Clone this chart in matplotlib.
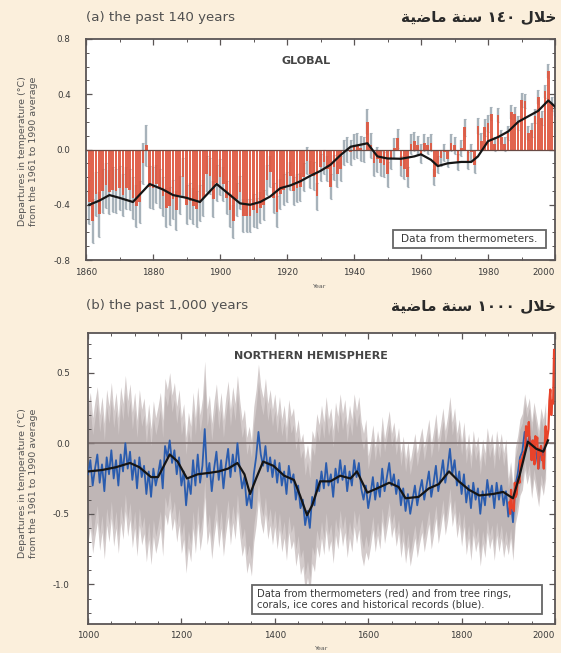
import numpy as np
import matplotlib
matplotlib.use('Agg')
import matplotlib.pyplot as plt
from matplotlib.ticker import MultipleLocator, FixedLocator
from matplotlib.patches import Rectangle

# ---------------- data: panel (a) global, 1861-2000 ----------------
years_a = np.arange(1861, 2001)
anom_a = [
    -0.38, -0.52, -0.32, -0.47, -0.30, -0.26, -0.31, -0.29, -0.30, -0.28,
    -0.33, -0.28, -0.29, -0.35, -0.41, -0.38, -0.10, 0.03, -0.27, -0.28,
    -0.25, -0.28, -0.34, -0.42, -0.41, -0.36, -0.44, -0.33, -0.20, -0.40,
    -0.37, -0.41, -0.43, -0.39, -0.35, -0.18, -0.19, -0.36, -0.24, -0.20,
    -0.25, -0.35, -0.44, -0.52, -0.36, -0.31, -0.48, -0.48, -0.48, -0.44,
    -0.46, -0.42, -0.40, -0.22, -0.16, -0.35, -0.45, -0.32, -0.29, -0.27,
    -0.19, -0.30, -0.28, -0.27, -0.20, -0.08, -0.18, -0.19, -0.34, -0.13,
    -0.09, -0.14, -0.27, -0.13, -0.18, -0.14, -0.02, 0.00, -0.02, 0.02,
    0.03, 0.01, 0.00, 0.20, 0.03, -0.10, -0.07, -0.10, -0.11, -0.18,
    -0.07, 0.01, 0.08, -0.12, -0.14, -0.20, 0.04, 0.06, 0.03, -0.03,
    0.05, 0.03, 0.05, -0.20, -0.11, -0.06, -0.02, -0.07, 0.05, 0.03,
    -0.09, 0.01, 0.16, -0.08, -0.02, -0.11, 0.17, 0.06, 0.16, 0.19,
    0.26, 0.04, 0.25, 0.09, 0.04, 0.12, 0.27, 0.26, 0.19, 0.36,
    0.35, 0.12, 0.14, 0.24, 0.38, 0.23, 0.42, 0.57, 0.33, 0.29,
]
err_decades_a = [0.16, 0.15, 0.14, 0.13, 0.12, 0.11, 0.10, 0.09, 0.09, 0.07,
                 0.06, 0.06, 0.05, 0.05]
smooth_a_years = [1861, 1864, 1867, 1870, 1874, 1879, 1883, 1886, 1890, 1894,
                  1899, 1903, 1906, 1909, 1912, 1915, 1918, 1921, 1924, 1927,
                  1930, 1933, 1936, 1939, 1942, 1944, 1947, 1950, 1954, 1958,
                  1960, 1963, 1965, 1968, 1972, 1975, 1977, 1980, 1983, 1986,
                  1989, 1992, 1995, 1998, 2000]
smooth_a_vals = [-0.40, -0.37, -0.33, -0.35, -0.38, -0.25, -0.29, -0.33, -0.35, -0.38,
                 -0.25, -0.33, -0.39, -0.40, -0.38, -0.34, -0.28, -0.26, -0.23, -0.19,
                 -0.155, -0.11, -0.04, 0.02, 0.035, 0.045, -0.05, -0.065, -0.067, -0.05,
                 -0.035, -0.075, -0.12, -0.10, -0.09, -0.09, -0.05, 0.06, 0.09, 0.13,
                 0.20, 0.24, 0.28, 0.355, 0.31]

# ---------------- data: panel (b) northern hemisphere, 1000-2000 ----------------
proxy_years = np.arange(1000, 1981, 5)
proxy_vals = [
    -0.22, -0.12, -0.30, -0.18, -0.08, -0.28, -0.15, -0.34, -0.10, -0.22,
    -0.05, -0.25, -0.12, -0.30, -0.08, -0.20, 0.00, -0.18, -0.06, -0.26,
    -0.12, -0.32, -0.10, -0.24, -0.16, -0.36, -0.20, -0.38, -0.18, -0.30,
    -0.22, -0.12, -0.32, -0.02, -0.10, 0.02, -0.14, -0.05, -0.22, -0.10,
    -0.30, -0.20, -0.44, -0.26, -0.36, -0.12, -0.30, -0.08, -0.28, -0.16,
    0.10, -0.24, -0.14, -0.34, -0.18, -0.06, -0.26, -0.12, -0.32, -0.16,
    -0.04, -0.24, -0.08, -0.20, 0.00, -0.18, -0.32, -0.24, -0.44, -0.36,
    -0.46, -0.22, -0.10, 0.08, -0.08, -0.16, -0.02, -0.20, -0.10, -0.24,
    -0.12, -0.28, -0.14, -0.30, -0.20, -0.36, -0.16, -0.28, -0.22, -0.40,
    -0.30, -0.46, -0.40, -0.58, -0.48, -0.60, -0.38, -0.44, -0.26, -0.34,
    -0.20, -0.32, -0.14, -0.30, -0.22, -0.38, -0.18, -0.28, -0.12, -0.26,
    -0.16, -0.34, -0.20, -0.30, -0.12, -0.24, -0.14, -0.32, -0.40, -0.30,
    -0.46, -0.36, -0.24, -0.40, -0.28, -0.38, -0.18, -0.34, -0.24, -0.14,
    -0.30, -0.22, -0.36, -0.26, -0.44, -0.32, -0.48, -0.36, -0.50, -0.40,
    -0.30, -0.44, -0.34, -0.26, -0.40, -0.30, -0.20, -0.38, -0.28, -0.16,
    -0.34, -0.24, -0.12, -0.28, -0.18, -0.04, -0.22, -0.12, -0.30, -0.20,
    -0.36, -0.22, -0.42, -0.30, -0.46, -0.28, -0.40, -0.32, -0.50, -0.34,
    -0.44, -0.26, -0.38, -0.30, -0.46, -0.28, -0.40, -0.30, -0.44, -0.34,
    -0.52, -0.40, -0.56, -0.30, -0.22, -0.10, -0.06, 0.08, -0.02, 0.05,
    -0.12, 0.02, -0.08, -0.18, -0.02, -0.10, 0.02,
]
band_era_edges = [1000, 1400, 1600, 1900, 1981]
band_halfwidth = [0.48, 0.47, 0.37, 0.27]

instr_years = np.arange(1902, 1999, 2)
instr_vals = [
    -0.42, -0.50, -0.33, -0.46, -0.45, -0.48, -0.28, -0.38, -0.36, -0.27,
    -0.25, -0.28, -0.12, -0.16, -0.10, -0.08, -0.06, -0.05, 0.12, 0.05,
    0.08, 0.15, -0.02, -0.01, -0.12, 0.02, -0.05, -0.15, 0.05, 0.00,
    0.04, -0.18, -0.04, -0.08, -0.02, -0.12, -0.10, -0.18, -0.02, 0.12,
    0.00, 0.05, 0.10, 0.30, 0.38, 0.20, 0.30, 0.28, 0.66,
]
smooth_b_years = [1000, 1030, 1060, 1090, 1110, 1135, 1150, 1175, 1192, 1212,
                  1235, 1260, 1280, 1300, 1320, 1335, 1347, 1360, 1375, 1397,
                  1420, 1441, 1454, 1469, 1480, 1497, 1519, 1540, 1562, 1576,
                  1598, 1619, 1645, 1665, 1680, 1708, 1730, 1751, 1773, 1794,
                  1816, 1838, 1867, 1889, 1910, 1924, 1942, 1960, 1975, 1985]
smooth_b_vals = [-0.20, -0.19, -0.17, -0.14, -0.17, -0.24, -0.24, -0.08, -0.13, -0.25,
                 -0.22, -0.21, -0.20, -0.18, -0.14, -0.22, -0.36, -0.25, -0.13, -0.16,
                 -0.23, -0.26, -0.37, -0.51, -0.44, -0.27, -0.27, -0.23, -0.25, -0.20,
                 -0.35, -0.32, -0.28, -0.31, -0.39, -0.38, -0.32, -0.29, -0.20, -0.27,
                 -0.33, -0.37, -0.36, -0.345, -0.39, -0.23, 0.01, -0.04, -0.06, 0.02]

# texts
title_a = "(a) the past 140 years"
title_b = "(b) the past 1,000 years"
# Arabic titles, in visual (shaped, right-to-left reordered) form:
# "خلال ١٤٠ سنة ماضية" and "خلال ١٠٠٠ سنة ماضية"
title_a_ar = "\uFE94\uFEF4\uFEBF\uFE8E\uFEE3 \uFE94\uFEE8\uFEB3 \u0661\u0664\u0660 \uFEDD\uFEFC\uFEA7"
title_b_ar = "\uFE94\uFEF4\uFEBF\uFE8E\uFEE3 \uFE94\uFEE8\uFEB3 \u0661\u0660\u0660\u0660 \uFEDD\uFEFC\uFEA7"
ylabel_txt = "Departures in temperature (\u00b0C)\nfrom the 1961 to 1990 average"
label_a = "GLOBAL"
label_b = "NORTHERN HEMISPHERE"
note_a = "Data from thermometers."
note_b = ("Data from thermometers (red) and from tree rings,\n"
          "corals, ice cores and historical records (blue).")
xticks_a = [1860, 1880, 1900, 1920, 1940, 1960, 1980, 2000]
xticks_b = [1000, 1200, 1400, 1600, 1800, 2000]

assert len(anom_a) == len(years_a)
assert len(proxy_vals) == len(proxy_years)
assert len(instr_vals) == len(instr_years)

# ---------------- figure ----------------
W, H = 561, 653
BG = '#fbefdc'
plt.rcParams['font.family'] = ['DejaVu Sans']
fig = plt.figure(figsize=(W / 100, H / 100), dpi=100, facecolor=BG)


def px(x, y):
    return x / W, 1 - y / H


def add_axes_px(l, t, r, b):
    return fig.add_axes([l / W, 1 - b / H, (r - l) / W, (b - t) / H])


SPINE = '#5a5555'
TXT = '#3a3a3a'


def style(ax):
    for s in ax.spines.values():
        s.set_color(SPINE)
        s.set_linewidth(1.3)
    ax.tick_params(which='both', direction='in', top=True, right=True,
                   color=SPINE, labelcolor=TXT, labelsize=6.3)
    ax.tick_params(which='major', length=4, width=0.9)
    ax.tick_params(which='minor', length=2.2, width=0.7)
    ax.set_facecolor('white')


# ---- panel (a)
ax1 = add_axes_px(86, 39, 555, 260)
style(ax1)
err_a = np.repeat(err_decades_a, 10)
ax1.errorbar(years_a, anom_a, yerr=err_a, fmt='none', ecolor='#a7b2ba',
             elinewidth=1.7, capsize=1.0, capthick=0.8, zorder=1)
ax1.bar(years_a, anom_a, width=0.8, color='#df5740', edgecolor='none',
        alpha=0.92, zorder=2)
ax1.axhline(0, color='#6a4a44', lw=0.9, zorder=4)
ax1.plot(smooth_a_years, smooth_a_vals, color='#151515', lw=1.6, zorder=5,
         solid_joinstyle='round')
ax1.set_xlim(1860, 2000)
ax1.set_ylim(-0.8, 0.8)
ax1.set_xticks(xticks_a)
ax1.set_xticklabels([str(v) for v in xticks_a])
ax1.xaxis.set_minor_locator(MultipleLocator(10))
ax1.yaxis.set_major_locator(FixedLocator([-0.8, -0.4, 0.0, 0.4, 0.8]))
ax1.yaxis.set_minor_locator(MultipleLocator(0.1))
ax1.set_yticklabels(["-0.8", "-0.4", "0.0", "0.4", "0.8"])
ax1.tick_params(axis='y', pad=11)
ax1.tick_params(axis='x', pad=6)

ax1.text(0.47, 0.90, label_a, transform=ax1.transAxes, ha='center', va='center',
         fontsize=8, fontweight='bold', color='#444444')
# note box a
ax1.add_patch(Rectangle(((393 - 86) / 469, (260 - 248) / 221), (546 - 393) / 469,
                        18 / 221, transform=ax1.transAxes, facecolor='white',
                        edgecolor='#666666', lw=1.3, zorder=6))
ax1.text((469.5 - 86) / 469, (260 - 239) / 221, note_a, transform=ax1.transAxes,
         ha='center', va='center', fontsize=7.6, color=TXT, zorder=7)

# ---- panel (b)
ax2 = add_axes_px(88, 333, 555, 624)
style(ax2)
hw = np.array(band_halfwidth)[np.searchsorted(band_era_edges, proxy_years, side='right') - 1]
pv = np.array(proxy_vals)
ax2.fill_between(proxy_years, pv - hw, pv + hw, color='#d3cbcb', lw=0, zorder=1)
ax2.fill_between(proxy_years, pv - 0.75 * hw, pv + 0.75 * hw, color='#bfb6b6',
                 lw=0, zorder=1.5)
ax2.axhline(0, color='#857878', lw=1.3, zorder=2)
ax2.plot(proxy_years, proxy_vals, color='#2a5cae', lw=1.3, zorder=3)
ax2.plot(instr_years, instr_vals, color='#e8432a', lw=1.6, zorder=4)
ax2.plot(smooth_b_years, smooth_b_vals, color='#151515', lw=1.6, zorder=5,
         solid_joinstyle='round')
ax2.set_xlim(1000, 2000)
ax2.set_ylim(-1.28, 0.78)
ax2.set_xticks(xticks_b)
ax2.set_xticklabels([str(v) for v in xticks_b])
ax2.xaxis.set_minor_locator(MultipleLocator(50))
ax2.yaxis.set_major_locator(FixedLocator([-1.0, -0.5, 0.0, 0.5]))
ax2.yaxis.set_minor_locator(MultipleLocator(0.1))
ax2.set_yticklabels(["-1.0", "-0.5", "0.0", "0.5"])
ax2.tick_params(axis='y', pad=13)
ax2.tick_params(axis='x', pad=5)

ax2.text((311 - 88) / 467, (624 - 356) / 291, label_b, transform=ax2.transAxes,
         ha='center', va='center', fontsize=8, fontweight='bold', color='#444444')
ax2.add_patch(Rectangle(((252 - 88) / 467, (624 - 614) / 291), (542 - 252) / 467,
                        29 / 291, transform=ax2.transAxes, facecolor='white',
                        edgecolor='#666666', lw=1.3, zorder=6))
ax2.text((257 - 88) / 467, (624 - 599.5) / 291, note_b, transform=ax2.transAxes,
         ha='left', va='center', fontsize=7.2, color=TXT, zorder=7,
         linespacing=1.1)

# ---- titles & labels
fig.text(*px(86, 17), title_a, ha='left', va='center', fontsize=9.6, color='#505050')
fig.text(*px(556, 17), title_a_ar, ha='right', va='center', fontsize=11,
         fontweight='bold', color='#2a2a2a')
fig.text(*px(86, 306), title_b, ha='left', va='center', fontsize=9.6, color='#505050')
fig.text(*px(556, 306), title_b_ar, ha='right', va='center', fontsize=11,
         fontweight='bold', color='#2a2a2a')

fig.text(*px(28, 151), ylabel_txt, rotation=90, ha='center', va='center',
         fontsize=6.8, color='#555555', linespacing=1.3)
fig.text(*px(28, 483), ylabel_txt, rotation=90, ha='center', va='center',
         fontsize=6.8, color='#555555', linespacing=1.3)
fig.text(*px(320, 286), "Year", ha='center', va='center', fontsize=4.5, color='#555555')
fig.text(*px(322, 649), "Year", ha='center', va='center', fontsize=4.5, color='#555555')

# keep the last year label inside the picture
fig.canvas.draw()
for ax in (ax1, ax2):
    ax.get_xticklabels()[-1].set_horizontalalignment('right')

fig.savefig('out.png', dpi=100, facecolor=BG)
